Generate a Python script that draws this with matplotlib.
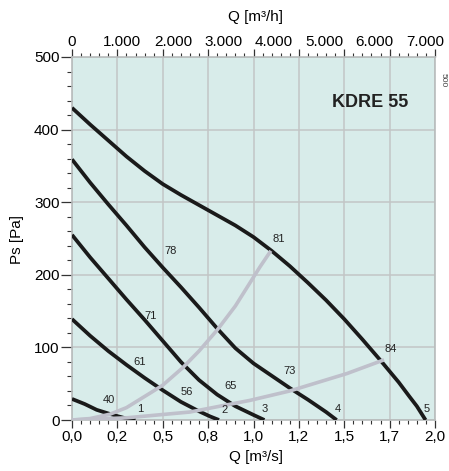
import matplotlib
matplotlib.use("Agg")
import matplotlib.pyplot as plt
from matplotlib.ticker import MultipleLocator

plt.rcParams['font.family'] = ['Liberation Sans', 'DejaVu Sans']

# fan curves, Q in m3/s, Ps in Pa
q1 = [0.0, 0.07, 0.136, 0.2, 0.255, 0.3, 0.35]
p1 = [29, 22, 14, 9, 5, 2, 0]
q2 = [0.0, 0.1, 0.2, 0.3, 0.4, 0.5, 0.6, 0.7, 0.76, 0.81]
p2 = [139, 116, 95, 76, 58, 41, 25, 12, 5, 0]
q3 = [0.0, 0.1, 0.2, 0.3, 0.4, 0.5, 0.6, 0.7, 0.8, 0.9, 1.0, 1.06]
p3 = [255, 224, 195, 166, 138, 109, 80, 55, 35, 19, 7, 0]
q4 = [0.0, 0.1, 0.2, 0.3, 0.4, 0.5, 0.6, 0.7, 0.8, 0.9, 1.0, 1.1, 1.2, 1.3, 1.4, 1.458]
p4 = [359, 327, 297, 268, 238, 210, 183, 155, 126, 99, 78, 61, 44, 28, 11, 0]
q5 = [0.0, 0.1, 0.2, 0.3, 0.4, 0.5, 0.6, 0.7, 0.8, 0.9, 1.0, 1.1, 1.2, 1.3, 1.4,
      1.5, 1.6, 1.7, 1.8, 1.86, 1.9, 1.948]
p5 = [430, 407, 385, 363, 343, 325, 310, 296, 282, 268, 252, 233, 212, 189, 165,
      139, 111, 82, 52, 32, 19, 0]
fan_q = [q1, q2, q3, q4, q5]
fan_p = [p1, p2, p3, p4, p5]

# system curves (grey)
qa = [0.0, 0.1, 0.209, 0.3, 0.43, 0.5, 0.61, 0.7, 0.8, 0.9, 1.036, 1.09]
pa = [0, 2, 8, 17, 37, 48, 72, 95, 124, 157, 211, 231]
qb = [0.0, 0.3, 0.65, 0.98, 1.2, 1.515, 1.71]
pb = [0, 3, 11, 27, 40, 64, 82]

# labels on the curves: text, Q, Ps
curve_labels = ['1', '2', '3', '4', '5']
curve_label_q = [0.375, 0.843, 1.063, 1.464, 1.954]
curve_label_p = [15, 14, 15, 15, 15]
eff_labels = ['40', '61', '56', '71', '65', '78', '73', '81', '84']
eff_q = [0.204, 0.37, 0.635, 0.435, 0.874, 0.544, 1.201, 1.137, 1.756]
eff_p = [28, 80, 38, 143, 47, 233, 67, 250, 98]

bottom_ticks = [0, 0.25, 0.5, 0.75, 1.0, 1.25, 1.5, 1.75, 2.0]
bottom_labels = ['0,0', '0,2', '0,5', '0,8', '1,0', '1,2', '1,5', '1,7', '2,0']
top_ticks = [0, 1000, 2000, 3000, 4000, 5000, 6000, 7000]
top_labels = ['0', '1.000', '2.000', '3.000', '4.000', '5.000', '6.000', '7.000']

W, H = 449, 471
fig = plt.figure(figsize=(W / 100, H / 100), dpi=100)
ax = fig.add_axes([72 / W, 1 - 420 / H, 363 / W, 363 / H])
ax.set_facecolor('#d8ecea')
ax.set_xlim(0, 2)
ax.set_ylim(0, 500)

grid_c = '#c2c6c6'
ax.grid(True, color=grid_c, lw=1.1)
ax.set_axisbelow(True)
for s in ax.spines.values():
    s.set_color('#b8bcbc')
    s.set_linewidth(1.2)

for q, p in zip(fan_q, fan_p):
    ax.plot(q, p, color='#1a1a1a', lw=2.7, solid_capstyle='butt', zorder=3)
ax.plot(qa, pa, color='#bfc0cb', lw=2.6, zorder=4)
ax.plot(qb, pb, color='#bfc0cb', lw=2.6, zorder=4)

for t, q, p in zip(curve_labels, curve_label_q, curve_label_p):
    ax.text(q, p, t, fontsize=8, ha='center', va='center', color='#222', zorder=5)
for t, q, p in zip(eff_labels, eff_q, eff_p):
    ax.text(q, p, t, fontsize=8, ha='center', va='center', color='#222', zorder=5)

ax.text(1.64, 437, 'KDRE 55', fontsize=13, fontweight='bold', ha='center',
        va='center', color='#222')

ax.set_xticks(bottom_ticks)
ax.set_xticklabels(bottom_labels)
ax.xaxis.set_minor_locator(MultipleLocator(0.05))
ax.set_yticks(range(0, 501, 100))
ax.yaxis.set_minor_locator(MultipleLocator(20))
ax.tick_params(axis='x', which='major', length=6, width=0.9, color='#333',
               labelsize=11, pad=1.5, top=True)
ax.tick_params(axis='x', which='minor', length=3, width=0.8, color='#333', top=True)
ax.tick_params(axis='y', which='major', length=8, width=0.9, color='#333',
               labelsize=11, pad=1)
ax.tick_params(axis='y', which='minor', length=3.5, width=0.8, color='#333')

sec = ax.secondary_xaxis('top', functions=(lambda q: q * 3600, lambda h: h / 3600))
sec.set_xticks(top_ticks)
sec.set_xticklabels(top_labels)
sec.tick_params(length=0, pad=6, labelsize=11)
sec.spines['top'].set_visible(False)

fig.text(256 / W, 1 - 17 / H, 'Q [m³/h]', fontsize=11, ha='center', va='center')
fig.text(256 / W, 1 - 457 / H, 'Q [m³/s]', fontsize=11, ha='center', va='center')
fig.text(17 / W, 1 - 240 / H, 'Ps [Pa]', fontsize=11, ha='center', va='center',
         rotation=90)
fig.text(443 / W, 1 - 80 / H, '500', fontsize=6, ha='center', va='center',
         rotation=-90, color='#444')

fig.savefig('out.png', dpi=100)
